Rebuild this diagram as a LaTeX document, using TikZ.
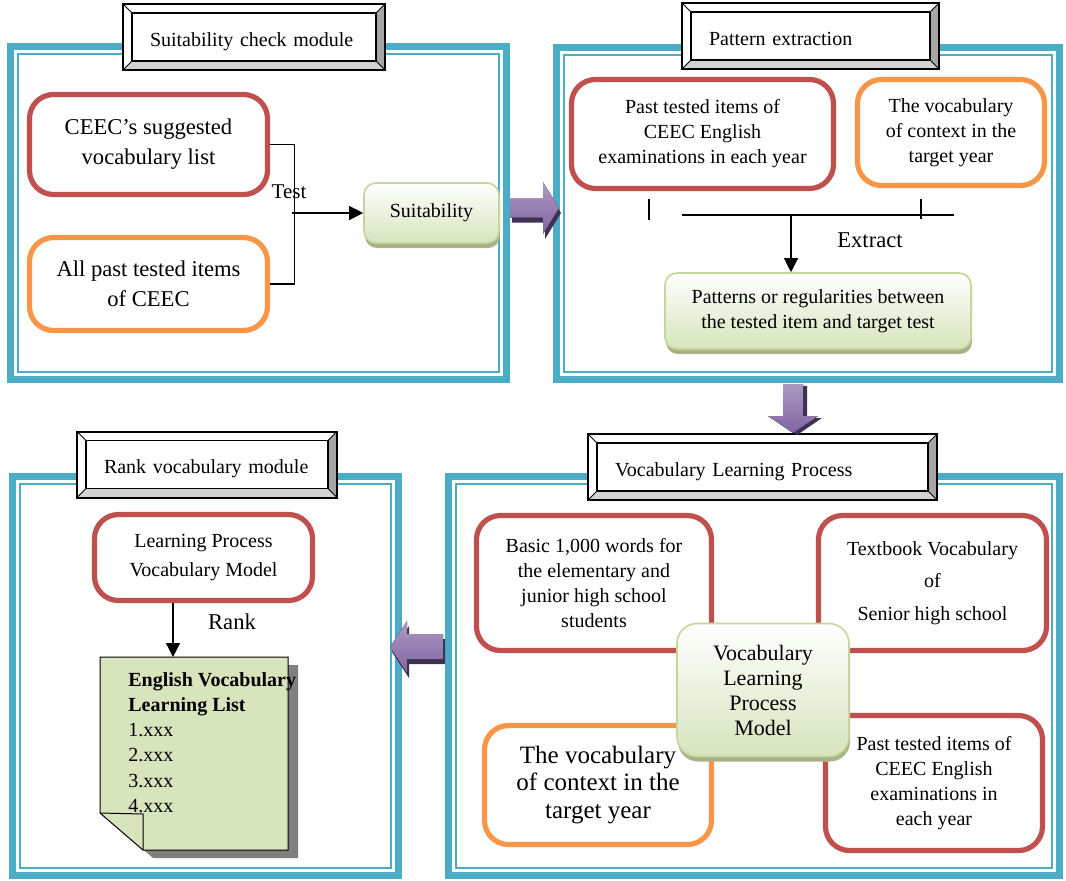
\documentclass[tikz,border=0pt]{standalone}
\usepackage{fontspec}
\setmainfont{Liberation Serif}
\usetikzlibrary{arrows.meta,shadows}
\definecolor{panelteal}{HTML}{4BACC6}
\definecolor{boxred}{HTML}{C0504D}
\definecolor{boxorange}{HTML}{F79646}
\definecolor{modelgreen}{HTML}{D7E4BD}
\definecolor{modeledge}{HTML}{C3D69B}
\definecolor{modelshadow}{HTML}{A9B28A}
\definecolor{arrowpurple}{HTML}{8064A2}
\definecolor{arrowshadow}{HTML}{3F3151}
\definecolor{listgreen}{HTML}{D7E4BC}
\definecolor{listshadow}{HTML}{7F7F7F}

\begin{document}
\begin{tikzpicture}[x=0.5pt,y=-0.5pt,
    band/.style={draw=panelteal,line width=3.5pt},
    thinband/.style={draw=panelteal,line width=1pt},
    titlebox/.style={draw,line width=1pt,fill=white,minimum height=33pt,inner xsep=13.5pt,align=left,
        text height=11pt,text depth=2pt,font=\fontsize{10}{12}\selectfont,
        path picture={
            \fill[gray!35] (path picture bounding box.south west) -- (path picture bounding box.south east)
                -- ([shift={(-4.5pt,4.5pt)}]path picture bounding box.south east) -- ([shift={(4.5pt,4.5pt)}]path picture bounding box.south west) -- cycle;
            \fill[gray!70] (path picture bounding box.south east) -- (path picture bounding box.north east)
                -- ([shift={(-4.5pt,-4.5pt)}]path picture bounding box.north east) -- ([shift={(-4.5pt,4.5pt)}]path picture bounding box.south east) -- cycle;
            \draw[line width=0.7pt] ([shift={(4.5pt,4.5pt)}]path picture bounding box.south west) rectangle ([shift={(-4.5pt,-4.5pt)}]path picture bounding box.north east);
            \foreach \a/\dx/\dy in {south west/1/1,south east/-1/1,north east/-1/-1,north west/1/-1}
                \draw[line width=0.5pt] (path picture bounding box.\a) -- ++(\dx*4.5pt,\dy*4.5pt);
        }},
    vocbox/.style={draw=boxred,line width=2.6pt,rounded corners=12pt,fill=white,align=center,inner sep=0pt},
    ctxbox/.style={vocbox,draw=boxorange},
    modelbox/.style={draw=modeledge,line width=0.8pt,rounded corners=6pt,top color=white,bottom color=modelgreen,
        align=center,inner sep=0pt,drop shadow={shadow xshift=0.5pt,shadow yshift=-2.5pt,fill=modelshadow,opacity=1}},
    blockarrow/.style={top color=arrowpurple!65!white,bottom color=arrowpurple},
    smalltext/.style={font=\fontsize{10}{12.5}\selectfont},
    largetext/.style={font=\fontsize{11.3}{15}\selectfont},
    flowarrow/.style={line width=0.6pt,-{Triangle[length=7pt,width=7pt]}}]
    \useasboundingbox (0,0) rectangle (1066,880);

    \draw[band] (10.5,46.5) rectangle (506.5,379.5);
    \draw[thinband] (18,54) rectangle (499,372);
    \draw[band] (556.5,47.5) rectangle (1059.5,379.5);
    \draw[thinband] (564,55) rectangle (1052,372);
    \draw[band] (12.5,476.5) rectangle (398.5,875.5);
    \draw[thinband] (20,484) rectangle (391,868);
    \draw[band] (448.5,476.5) rectangle (1059.5,875.5);
    \draw[thinband] (456,484) rectangle (1052,868);

    \node[titlebox,text width=104pt] (suittitle) at (254,37) {Suitability check module};
    \node[titlebox,text width=101.5pt] (pattitle) at (810.5,36) {Pattern extraction};
    \node[titlebox,text width=103pt] (ranktitle) at (207,464.5) {Rank vocabulary module};
    \node[titlebox,text width=147.5pt] (proctitle) at (762.5,467) {Vocabulary Learning Process};

    \node[vocbox,largetext,minimum width=119pt,minimum height=50pt] (ceec) at (148.5,144.5) {CEEC’s suggested\\vocabulary list};
    \node[ctxbox,largetext,minimum width=119pt,minimum height=46.5pt] (allpast) at (148.5,284) {All past tested items\\of CEEC};
    \node[modelbox,smalltext,minimum width=67.5pt,minimum height=30pt] (suit) at (431.5,213) {Suitability};
    \draw[line width=0.6pt] (ceec.east) -- ++(12pt,0) |- (allpast.east);
    \coordinate (testjoin) at (291.5,213);
    \draw[flowarrow] (testjoin) -- (suit.west);
    \node[font=\fontsize{10.5}{12}\selectfont] (testlbl) at (289,192) {Test};

    \node[vocbox,smalltext,minimum width=131pt,minimum height=54.5pt] (past1) at (702.5,134) {Past tested items of\\CEEC English\\examinations in each year};
    \node[ctxbox,smalltext,minimum width=93.5pt,minimum height=53pt] (ctx1) at (951,132.5) {The vocabulary\\of context in the\\target year};
    \node[modelbox,smalltext,minimum width=153pt,minimum height=38pt] (pattern) at (818,311) {Patterns or regularities between\\the tested item and target test};
    \draw[line width=0.7pt] ([xshift=-26.75pt,yshift=-3.75pt]past1.south) -- ++(0,-10.5pt);
    \draw[line width=0.7pt] ([xshift=-15pt,yshift=-5.25pt]ctx1.south) -- ++(0,-10pt);
    \coordinate (extractjoin) at (791,215);
    \draw[line width=0.7pt] (682,215) -- (954,215);
    \draw[flowarrow] (extractjoin) -- (extractjoin |- pattern.north);
    \node[largetext] (extractlbl) at (870,240) {Extract};

    \node[vocbox,font=\fontsize{10}{14.5}\selectfont,minimum width=109pt,minimum height=43pt] (lpvm) at (203.5,557.5) {Learning Process\\Vocabulary Model};
    \coordinate (pagetop) at (173,657);
    \draw[flowarrow] (lpvm.south -| pagetop) -- (pagetop);
    \node[largetext] (ranklbl) at (232,622) {Rank};
    \fill[listshadow,shift={(5pt,-4pt)}] (100,657) -- (288,657) -- (288,850) -- (143,850) -- (100,813) -- cycle;
    \filldraw[fill=listgreen,line width=0.5pt] (100,657) -- (288,657) -- (288,850) -- (143,850) -- (100,813) -- cycle;
    \draw[line width=0.5pt] (100,813) -- (143,814) -- (143,850);
    \node[anchor=north west,align=left,inner sep=0pt,font=\fontsize{10}{12.6}\selectfont] (vocablist) at (128,672)
        {\textbf{English Vocabulary}\\\textbf{Learning List}\\1.xxx\\2.xxx\\3.xxx\\4.xxx};

    \node[vocbox,smalltext,minimum width=117.5pt,minimum height=67.5pt] (basic) at (594,583) {Basic 1,000 words for\\the elementary and\\junior high school\\students};
    \node[vocbox,font=\fontsize{10}{16.25}\selectfont,minimum width=114pt,minimum height=67.5pt] (textbook) at (932.5,583) {Textbook Vocabulary\\of\\Senior high school};
    \node[ctxbox,font=\fontsize{12.5}{13.75}\selectfont,minimum width=113.5pt,minimum height=59.5pt] (ctx2) at (598,785) {The vocabulary\\of context in the\\target year};
    \node[vocbox,smalltext,minimum width=108.5pt,minimum height=67.5pt] (past2) at (934,783) {Past tested items of\\CEEC English\\examinations in\\each year};
    \node[modelbox,rounded corners=10pt,font=\fontsize{11}{12.5}\selectfont,minimum width=86pt,minimum height=66.5pt] (vlpm) at (763,690) {Vocabulary\\Learning\\Process\\Model};

    \fill[arrowshadow,shift={(1pt,-2.5pt)}] (510,198.5) -- (543,198.5) -- (543,182) -- (559,208) -- (543,234) -- (543,217.5) -- (510,217.5) -- cycle;
    \fill[blockarrow] (510,198.5) -- (543,198.5) -- (543,182) -- (559,208) -- (543,234) -- (543,217.5) -- (510,217.5) -- cycle;
    \fill[arrowshadow,shift={(2pt,-1pt)}] (783,384) -- (803,384) -- (803,416) -- (818,416) -- (793,433) -- (768,416) -- (783,416) -- cycle;
    \fill[blockarrow] (783,384) -- (803,384) -- (803,416) -- (818,416) -- (793,433) -- (768,416) -- (783,416) -- cycle;
    \fill[arrowshadow,shift={(1pt,-2.5pt)}] (443,634) -- (407,634) -- (407,621) -- (390,647) -- (407,673) -- (407,659) -- (443,659) -- cycle;
    \fill[blockarrow] (443,634) -- (407,634) -- (407,621) -- (390,647) -- (407,673) -- (407,659) -- (443,659) -- cycle;
\end{tikzpicture}
\end{document}
